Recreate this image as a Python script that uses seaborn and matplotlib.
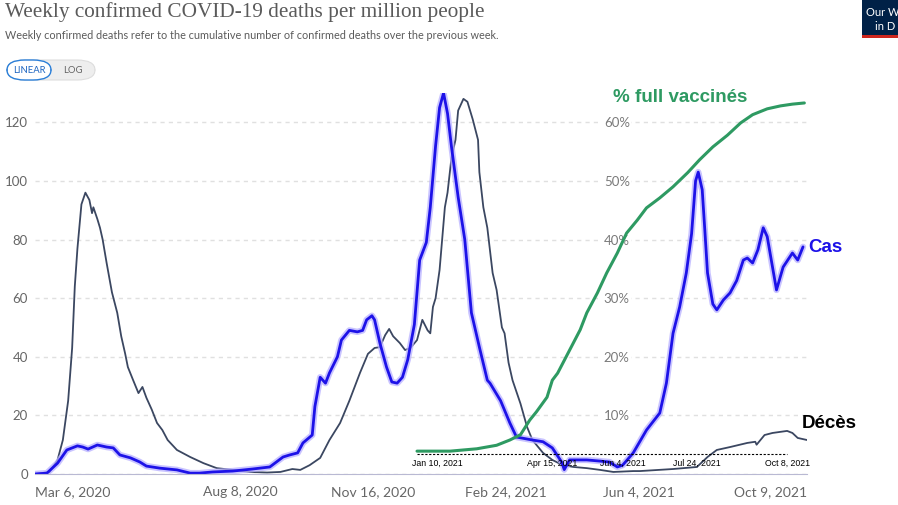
import numpy as np
import pandas as pd
import matplotlib.pyplot as plt
from matplotlib.patches import FancyBboxPatch, Rectangle
from matplotlib.ticker import FuncFormatter
import seaborn as sns

start = pd.Timestamp("2020-03-06")

# weekly deaths per million (days after Mar 6, 2020)
death_days = [0, 11, 17, 21, 25, 28, 30, 32, 35, 38, 41, 43, 44, 47, 49, 51, 54, 58, 62, 65,
              68, 70, 74, 78, 81, 84, 88, 92, 96, 100, 107, 117, 127, 137, 149, 162, 175, 185, 194, 200,
              207, 215, 222, 230, 237, 245, 251, 256, 260, 264, 267, 270, 275, 279, 283, 288, 292, 296, 298, 300,
              302, 305, 309, 311, 314, 317, 319, 323, 326, 330, 334, 335, 338, 341, 345, 348, 352, 354, 357, 360,
              366, 371, 375, 383, 390, 398, 406, 416, 426, 436, 451, 456, 481, 499, 507, 514, 524, 537, 543, 544,
              550, 556, 567, 571, 575, 582]
death_vals = [0, 0.7, 4.8, 11.6, 25, 43, 64, 77, 92, 96, 93.5, 89, 91, 87, 84, 80, 72, 62, 55, 47,
              41, 36.5, 32, 27.6, 29.7, 26, 22, 17.4, 15, 11.6, 8.2, 5.8, 3.7, 2, 1.4, 0.7, 0.5, 0.7, 1.7, 1.4,
              3, 5.5, 11.6, 17.4, 25, 34.5, 41, 43, 43.3, 47.4, 49.5, 47, 44.7, 42.3, 43, 45.7, 52.6, 49, 48, 57,
              60, 69.6, 91, 96, 108, 114, 124, 128, 127, 121, 114, 103, 91, 84, 68.6, 62.8, 50, 48, 38, 32,
              24, 16, 11.6, 7.2, 4.8, 3, 2.4, 2, 1.4, 0.7, 1, 1, 1.7, 2.4, 5.8, 8.2, 9.2, 10.6, 11, 10,
              13.3, 14, 14.7, 14, 12.3, 11.6]

# "Cas" overlay (cases, same scale)
case_days = [0, 9, 17, 24, 32, 36, 40, 47, 54, 59, 64, 72, 79, 84, 94, 107, 117, 124, 134, 149,
             164, 177, 187, 192, 198, 202, 209, 211, 215, 219, 222, 228, 231, 237, 243, 247, 250, 254, 256, 260,
             265, 269, 273, 277, 281, 286, 290, 295, 298, 302, 305, 308, 311, 314, 319, 324, 329, 335, 341, 343,
             351, 358, 363, 375, 383, 390, 397, 399, 403, 416, 426, 433, 439, 443, 451, 461, 471, 476, 481, 486,
             491, 495, 498, 500, 503, 505, 507, 511, 514, 519, 524, 529, 534, 537, 541, 545, 549, 552, 556, 559,
             564, 571, 575, 579]
case_vals = [0, 0.3, 3.7, 8.2, 9.6, 9.2, 8.5, 9.9, 9.2, 8.9, 6.5, 5.5, 4.1, 2.7, 2, 1.4, 0.3, 0.3, 0.7, 1,
             1.7, 2.4, 5.8, 6.5, 7.2, 10.6, 13.3, 23, 33, 31, 34.5, 40, 45.7, 49, 48.5, 49, 52.6, 54, 52.6, 44.7,
             36.5, 31.4, 31, 33, 39, 51, 73, 79, 91, 112, 125, 130, 123, 111.6, 94.5, 80, 55, 43.3, 32, 31,
             25, 17.4, 12.6, 11.6, 11, 8.9, 4.1, 1.5, 4.8, 4.8, 4.4, 4.1, 2.4, 3, 7.2, 15, 20.8, 31, 48, 57,
             68.6, 82, 100, 103, 97, 83, 68.6, 58, 56, 59.4, 61.8, 66, 73, 73.7, 72, 76.5, 84, 81, 70.6, 62.8,
             70.6, 75.4, 73, 77.5]

# "% full vaccinés" overlay
vax_days = [288, 313, 333, 348, 358, 366, 373, 378, 386, 390, 394, 411, 416, 424, 431, 439, 446, 454, 461, 471,
            481, 492, 501, 511, 522, 532, 541, 552, 562, 571, 580]
vax_pct = [3.9, 3.9, 4.3, 4.9, 5.8, 6.7, 9.2, 10.6, 13.1, 16, 17.2, 24.6, 27.5, 30.9, 34.3, 37.7, 41.1, 43.3, 45.4, 47.1,
           49, 51.4, 53.6, 55.8, 57.8, 59.9, 61.3, 62.3, 62.8, 63.1, 63.3]
vax_base_days = [288, 567]
vax_base_pct = 3.4
vax_tick_days = [303, 390, 443, 499, 567]
vax_tick_labels = ["Jan 10, 2021", "Apr 15, 2021", "Jun 4, 2021", "Jul 24, 2021", "Oct 8, 2021"]

x_tick_dates = ["2020-03-06", "2020-08-08", "2020-11-16", "2021-02-24", "2021-06-04", "2021-10-09"]
x_tick_labels = ["Mar 6, 2020", "Aug 8, 2020", "Nov 16, 2020", "Feb 24, 2021", "Jun 4, 2021", "Oct 9, 2021"]
y_ticks = [0, 20, 40, 60, 80, 100, 120]
pct_ticks = [10, 20, 30, 40, 50, 60]


def to_dates(days):
    return start + pd.to_timedelta(np.asarray(days), unit="D")


deaths = pd.DataFrame({"date": to_dates(death_days), "value": death_vals})
cases = pd.DataFrame({"date": to_dates(case_days), "value": case_vals})
vax = pd.DataFrame({"date": to_dates(vax_days), "pct": vax_pct})

sns.set_style("white")
plt.rcParams["font.family"] = ["Lato", "DejaVu Sans"]

W, H = 898, 505
fig = plt.figure(figsize=(W / 100, H / 100), dpi=100)


def fx(x):
    return x / W


def fy(y):
    return 1 - y / H


ax = fig.add_axes([fx(35), 31 / H, 772 / W, 381 / H])

sns.lineplot(data=deaths, x="date", y="value", ax=ax, color="#3b4761", lw=1.3)
sns.lineplot(data=cases, x="date", y="value", ax=ax, color="#b8b0ff", lw=4.6, alpha=0.75)
sns.lineplot(data=cases, x="date", y="value", ax=ax, color="#1d12e8", lw=2.0)

ax.set_xlim(start, pd.Timestamp("2021-10-09"))
ax.set_ylim(0, 130)
ax.set_yticks(y_ticks)
ax.grid(axis="y", color="#e0e0e0", linestyle=(0, (3, 3)), lw=1)
ax.grid(axis="x", visible=False)
ax.set_xlabel("")
ax.set_ylabel("")
for s in ["top", "right", "left"]:
    ax.spines[s].set_visible(False)
ax.spines["bottom"].set_color("#b9b9d3")
ax.tick_params(axis="y", length=0, pad=5, labelsize=9.5, labelcolor="#666666")
ax.set_xticks(pd.to_datetime(x_tick_dates))
ax.set_xticklabels(x_tick_labels)
ax.tick_params(axis="x", length=5, color="#b0b0b0", pad=4, labelsize=10, labelcolor="#666666")
xl = ax.get_xticklabels()
xl[0].set_ha("left")
xl[-1].set_ha("right")

for d, lab in zip(vax_tick_days, vax_tick_labels):
    ax.text(to_dates([d])[0], 3.75, lab, ha="center", va="center", fontsize=6.3,
            family="Liberation Sans", color="black")

ax2 = ax.twinx()
sns.lineplot(data=vax, x="date", y="pct", ax=ax2, color="#2e9a62", lw=2.2)
b0, b1 = to_dates(vax_base_days)
ax2.hlines(vax_base_pct, b0, b1, color="black", lw=0.8, linestyles=(0, (2, 1.5)))
ax2.set_ylim(0, 65)
ax2.set_ylabel("")
ax2.set_yticks(pct_ticks)
ax2.yaxis.set_major_formatter(FuncFormatter(lambda v, _: f"{v:.0f}%"))
for s in ["top", "left", "bottom", "right"]:
    ax2.spines[s].set_visible(False)
ax2.spines["right"].set_position(("axes", (601 - 35) / 772))
ax2.tick_params(axis="y", length=0, pad=2, labelsize=9.5, labelcolor="#7a7a7a")
for t in ax2.get_yticklabels():
    t.set_bbox(dict(facecolor="white", edgecolor="none", pad=1))

# overlay labels
fig.text(fx(680), fy(97), "% full vaccinés", color="#2e9a62", fontsize=13.5, fontweight="bold",
         family="Liberation Sans", ha="center", va="center")
fig.text(fx(808), fy(248), "Cas", color="#1d12e8", fontsize=13.5, fontweight="bold",
         family="Liberation Sans", ha="left", va="center")
fig.text(fx(802), fy(423), "Décès", color="black", fontsize=13.5, fontweight="bold",
         family="Liberation Sans", ha="left", va="center")

# header
fig.text(fx(5), fy(2), "Weekly confirmed COVID-19 deaths per million people", fontsize=15.3,
         family="Liberation Serif", color="#5a5a5a", ha="left", va="top")
fig.text(fx(5), fy(35), "Weekly confirmed deaths refer to the cumulative number of confirmed deaths over the previous week.",
         fontsize=7.8, color="#5b5b5b", ha="left", va="center")

pill = FancyBboxPatch((fx(7), fy(80)), fx(88), 20 / H, boxstyle="round,pad=0,rounding_size=0.02",
                      transform=fig.transFigure, facecolor="#eeeeee", edgecolor="#dddddd", lw=0.8)
fig.patches.append(pill)
lin = FancyBboxPatch((fx(7), fy(80)), fx(44), 20 / H, boxstyle="round,pad=0,rounding_size=0.02",
                     transform=fig.transFigure, facecolor="white", edgecolor="#2b7fd8", lw=1)
fig.patches.append(lin)
fig.text(fx(29), fy(70.5), "LINEAR", fontsize=6.8, color="#1f66c1", ha="center", va="center")
fig.text(fx(73), fy(70.5), "LOG", fontsize=6.8, color="#666666", ha="center", va="center")

# logo (cut by the screenshot edge)
fig.patches.append(Rectangle((fx(862), fy(35)), fx(40), 35 / H, transform=fig.transFigure,
                             facecolor="#002147", edgecolor="none"))
fig.patches.append(Rectangle((fx(862), fy(38)), fx(40), 3 / H, transform=fig.transFigure,
                             facecolor="#ce261e", edgecolor="none"))
fig.text(fx(866), fy(12), "Our W", fontsize=8, color="white", ha="left", va="center")
fig.text(fx(875), fy(26), "in D", fontsize=8, color="white", ha="left", va="center")

fig.savefig("out.png", dpi=100)
